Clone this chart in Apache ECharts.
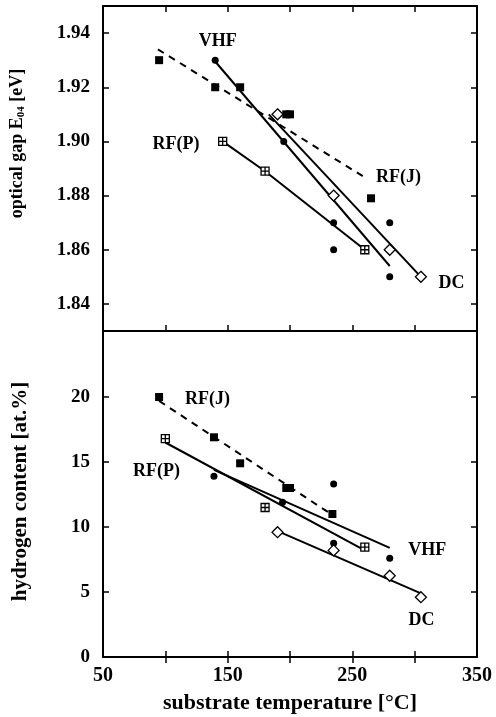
<!DOCTYPE html>
<html>
<head>
<meta charset="utf-8">
<script src="https://cdn.jsdelivr.net/npm/echarts@6/dist/echarts.min.js"></script>
<style>
html,body{margin:0;padding:0;background:#fff;}
#chart{width:496px;height:717px;}
</style>
</head>
<body>
<div id="chart"></div>
<script>
// ---- data (substrate temperature °C, value) ----
const xTicks = [100, 150, 200, 250, 300];
const xLabels = [50, 150, 250, 350];
const gapTicks = [1.84, 1.86, 1.88, 1.90, 1.92, 1.94];
const hTicks = [0, 5, 10, 15, 20];

// optical gap E04 [eV]
const rfjGap = [[95,1.930],[140,1.920],[160,1.920],[197,1.910],[200,1.910],[265,1.879]];
const rfjGapFit = [[94,1.934],[259,1.887]];
const vhfGap = [[140,1.930],[195,1.900],[235,1.870],[235,1.860],[280,1.870],[280,1.850]];
const vhfGapFit = [[140,1.9295],[280,1.854]];
const dcGap = [[190,1.910],[235,1.880],[280,1.860],[305,1.850]];
const dcGapFit = [[183,1.910],[305,1.850]];
const rfpGap = [[146,1.900],[180,1.889],[260,1.860]];
const rfpGapFit = [[146,1.900],[180,1.889],[260,1.860]];

// hydrogen content [at.%]
const rfjH = [[95,20.0],[139,16.9],[160,14.9],[197,13.0],[200,13.0],[234,11.0]];
const rfjHFit = [[95,19.7],[236,10.8]];
const vhfH = [[139,13.9],[194,11.9],[235,13.3],[235,8.75],[280,7.6]];
const vhfHFit = [[139,14.4],[280,8.4]];
const dcH = [[190,9.6],[235,8.2],[280,6.25],[305,4.6]];
const dcHFit = [[192,9.6],[305,4.9]];
const rfpH = [[100,16.8],[180,11.5],[260,8.45]];
const rfpHFit = [[100,16.5],[260,8.2]];

// curve annotations [x, y, text]
const gapNotes = [[142,1.937,'VHF'],[108.6,1.899,'RF(P)'],[287,1.8867,'RF(J)'],[329.5,1.8475,'DC']];
const hNotes = [[133.8,19.85,'RF(J)'],[92.9,14.27,'RF(P)'],[310,8.23,'VHF'],[305.5,2.85,'DC']];

// ---- styling ----
const FONT = 'Liberation Serif';
const BLACK = '#000';
const crossSquare = 'path://M1,1H11V11H1Z M6,1V11 M1,6H11';

function xAx(grid, pos, labels) {
  return {
    type: 'value', gridIndex: grid, position: pos, min: 50, max: 350,
    axisLine: { show: true, lineStyle: { color: BLACK, width: 2 } },
    axisTick: { show: true, inside: true, length: 6, customValues: xTicks, lineStyle: { color: BLACK, width: 1.5 } },
    axisLabel: labels ? {
      show: true, customValues: xLabels, margin: 9,
      color: BLACK, fontFamily: FONT, fontWeight: 'bold', fontSize: 20
    } : { show: false },
    splitLine: { show: false }
  };
}
function yAx(grid, pos, min, max, ticks, labels, fmt) {
  return {
    type: 'value', gridIndex: grid, position: pos, min: min, max: max,
    axisLine: { show: true, lineStyle: { color: BLACK, width: 2 } },
    axisTick: { show: true, inside: true, length: 6, customValues: ticks.filter(v => v > min), lineStyle: { color: BLACK, width: 1.5 } },
    axisLabel: labels ? {
      show: true, customValues: ticks, margin: 13, formatter: fmt,
      color: BLACK, fontFamily: FONT, fontWeight: 'bold', fontSize: 19
    } : { show: false },
    splitLine: { show: false }
  };
}

function pts(name, data, xi, yi, symbol, size, filled) {
  return {
    name: name, type: 'scatter', xAxisIndex: xi, yAxisIndex: yi, data: data,
    symbol: symbol, symbolSize: size, z: 5,
    itemStyle: filled ? { color: BLACK, opacity: 1 } : { color: '#fff', borderColor: BLACK, borderWidth: 1.3, opacity: 1 }
  };
}
function fit(name, data, xi, yi, dashed) {
  return {
    name: name, type: 'line', xAxisIndex: xi, yAxisIndex: yi, data: data,
    showSymbol: false, symbol: 'none', z: 3, silent: true,
    lineStyle: { color: BLACK, width: 2, type: dashed ? [7, 6] : 'solid' }
  };
}
function notes(data, xi, yi) {
  return {
    type: 'scatter', xAxisIndex: xi, yAxisIndex: yi, data: data,
    symbolSize: 1, itemStyle: { color: 'rgba(0,0,0,0)', opacity: 1 }, z: 6,
    label: {
      show: true, position: 'inside', formatter: p => p.data[2], opacity: 1,
      color: BLACK, fontFamily: FONT, fontWeight: 'bold', fontSize: 18
    }
  };
}

const chart = echarts.init(document.getElementById('chart'), null, { renderer: 'canvas' });
chart.setOption({
  backgroundColor: '#fff',
  animation: false,
  grid: [
    { left: 103, right: 19, top: 6, height: 325, show: false },
    { left: 103, right: 19, top: 332, height: 325, show: false }
  ],
  xAxis: [
    xAx(0, 'bottom', false),
    xAx(0, 'top', false),
    Object.assign(xAx(1, 'bottom', true), {
      name: 'substrate temperature [°C]', nameLocation: 'middle', nameGap: 35,
      nameTextStyle: { color: BLACK, fontFamily: FONT, fontWeight: 'bold', fontSize: 22 }
    }),
    xAx(1, 'top', false)
  ],
  yAxis: [
    Object.assign(yAx(0, 'left', 1.83, 1.95, gapTicks, true, v => v.toFixed(2)), {
      name: 'optical gap E{sub|04} [eV]', nameLocation: 'middle', nameGap: 76, nameRotate: 90,
      nameTextStyle: { color: BLACK, fontFamily: FONT, fontWeight: 'bold', fontSize: 18, padding: [0, 0, 0, 50],
        rich: { sub: { fontFamily: FONT, fontWeight: 'bold', fontSize: 11, verticalAlign: 'bottom', padding: [8, 0, 0, 0] } } }
    }),
    yAx(0, 'right', 1.83, 1.95, gapTicks, false),
    Object.assign(yAx(1, 'left', 0, 25, hTicks, true, v => String(v)), {
      name: 'hydrogen content [at.%]', nameLocation: 'middle', nameGap: 72, nameRotate: 90,
      nameTextStyle: { color: BLACK, fontFamily: FONT, fontWeight: 'bold', fontSize: 21, padding: [0, 0, 0, 6] }
    }),
    yAx(1, 'right', 0, 25, hTicks, false)
  ],
  series: [
    fit('RF(J) fit', rfjGapFit, 0, 0, true),
    fit('VHF fit', vhfGapFit, 0, 0, false),
    fit('DC fit', dcGapFit, 0, 0, false),
    fit('RF(P) fit', rfpGapFit, 0, 0, false),
    pts('RF(J)', rfjGap, 0, 0, 'rect', 8, true),
    pts('VHF', vhfGap, 0, 0, 'circle', 7, true),
    pts('RF(P)', rfpGap, 0, 0, crossSquare, 8, false),
    pts('DC', dcGap, 0, 0, 'diamond', 11, false),
    notes(gapNotes, 0, 0),

    fit('RF(J) fit', rfjHFit, 2, 2, true),
    fit('VHF fit', vhfHFit, 2, 2, false),
    fit('DC fit', dcHFit, 2, 2, false),
    fit('RF(P) fit', rfpHFit, 2, 2, false),
    pts('RF(J)', rfjH, 2, 2, 'rect', 8, true),
    pts('VHF', vhfH, 2, 2, 'circle', 7, true),
    pts('RF(P)', rfpH, 2, 2, crossSquare, 8, false),
    pts('DC', dcH, 2, 2, 'diamond', 11, false),
    notes(hNotes, 2, 2)
  ]
});
</script>
</body>
</html>
